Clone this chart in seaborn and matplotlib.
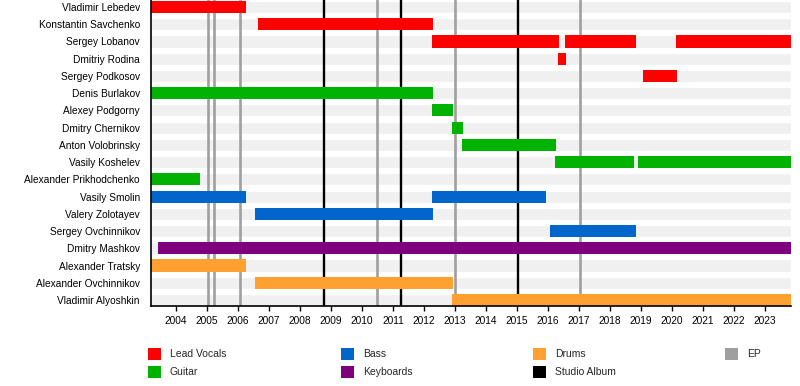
import matplotlib
matplotlib.use("Agg")
import matplotlib.pyplot as plt
import seaborn as sns
import pandas as pd
from matplotlib.patches import Rectangle

# band members, top to bottom
members = ['Vladimir Lebedev', 'Konstantin Savchenko', 'Sergey Lobanov', 'Dmitriy Rodina',
           'Sergey Podkosov', 'Denis Burlakov', 'Alexey Podgorny', 'Dmitry Chernikov',
           'Anton Volobrinsky', 'Vasily Koshelev', 'Alexander Prikhodchenko', 'Vasily Smolin',
           'Valery Zolotayev', 'Sergey Ovchinnikov', 'Dmitry Mashkov', 'Alexander Tratsky',
           'Alexander Ovchinnikov', 'Vladimir Alyoshkin']

# timeline range
t_start = 2003.19
t_end = 2023.85

# membership periods (member, role, from, till)
seg_member = ['Vladimir Lebedev', 'Konstantin Savchenko', 'Sergey Lobanov', 'Sergey Lobanov',
              'Sergey Lobanov', 'Dmitriy Rodina', 'Sergey Podkosov', 'Denis Burlakov',
              'Alexey Podgorny', 'Dmitry Chernikov', 'Anton Volobrinsky', 'Vasily Koshelev',
              'Vasily Koshelev', 'Alexander Prikhodchenko', 'Vasily Smolin', 'Vasily Smolin',
              'Valery Zolotayev', 'Sergey Ovchinnikov', 'Dmitry Mashkov', 'Alexander Tratsky',
              'Alexander Ovchinnikov', 'Vladimir Alyoshkin']
seg_role = ['Lead Vocals', 'Lead Vocals', 'Lead Vocals', 'Lead Vocals', 'Lead Vocals',
            'Lead Vocals', 'Lead Vocals', 'Guitar', 'Guitar', 'Guitar', 'Guitar', 'Guitar',
            'Guitar', 'Guitar', 'Bass', 'Bass', 'Bass', 'Bass', 'Keyboards', 'Drums',
            'Drums', 'Drums']
seg_from = [2003.19, 2006.66, 2012.27, 2016.56, 2020.14, 2016.33, 2019.07, 2003.19,
            2012.27, 2012.91, 2013.24, 2016.24, 2018.91, 2003.19, 2003.19, 2012.27,
            2006.56, 2016.07, 2003.41, 2003.19, 2006.56, 2012.91]
seg_till = [2006.26, 2012.29, 2016.36, 2018.85, 2023.85, 2016.59, 2020.17, 2012.30,
            2012.95, 2013.27, 2016.27, 2018.78, 2023.85, 2004.78, 2006.27, 2015.95,
            2012.29, 2018.85, 2023.85, 2006.27, 2012.95, 2023.85]

# releases
ep_dates = [2005.02, 2005.21, 2006.07, 2010.48, 2012.99, 2017.05]
album_dates = [2008.76, 2011.26, 2015.05]

years = list(range(2004, 2024))

roles = ['Lead Vocals', 'Guitar', 'Bass', 'Keyboards', 'Drums']
role_colors = {'Lead Vocals': '#ff0000', 'Guitar': '#00b300', 'Bass': '#0066cc',
               'Keyboards': '#7f007f', 'Drums': '#ffa030'}
ep_color = '#9f9f9f'
album_color = '#000000'
stripe_color = '#f0f0f0'

font = 'Liberation Sans'
sns.set_theme(style='white')
plt.rcParams['font.family'] = [font, 'DejaVu Sans']

seg = pd.DataFrame({'member': seg_member, 'role': seg_role, 'from': seg_from, 'till': seg_till})
seg['pos'] = seg['member'].map({m: i for i, m in enumerate(members)})

W, H = 800, 386
fig = plt.figure(figsize=(W / 100, H / 100), dpi=100)
ax = fig.add_axes([151 / W, 1 - 306 / H, 640 / W, 306 / H])

# light grey background stripe for every row
bg = pd.DataFrame({'member': members, 'span': [t_end] * len(members)})
sns.barplot(data=bg, x='span', y='member', orient='h', color=stripe_color,
            width=0.7, ax=ax, zorder=0, saturation=1)

# release lines
for d in ep_dates:
    ax.axvline(d, color=ep_color, lw=1.9, zorder=1)
for d in album_dates:
    ax.axvline(d, color=album_color, lw=1.7, zorder=1)

# member bars
for _, r in seg.iterrows():
    ax.barh(r['pos'], r['till'] - r['from'], left=r['from'], height=0.7,
            color=role_colors[r['role']], zorder=2, linewidth=0)

ax.set_xlim(t_start, t_end)
ax.set_ylim(17.35, -0.407)
ax.set_xticks(years)
ax.set_xticklabels([str(y) for y in years])
ax.set_xlabel('')
ax.set_ylabel('')
sns.despine(ax=ax, top=True, right=True)
for s in ['left', 'bottom']:
    ax.spines[s].set_color('black')
    ax.spines[s].set_linewidth(1.2)
ax.tick_params(axis='x', bottom=True, length=3.5, width=1, color='black',
               labelsize=7.3, pad=4, labelcolor='black')
ax.tick_params(axis='y', left=False, length=0, labelsize=7.3, pad=8, labelcolor='black')

# legend, four columns
legend_items = [('Lead Vocals', role_colors['Lead Vocals'], 0, 0),
                ('Guitar', role_colors['Guitar'], 0, 1),
                ('Bass', role_colors['Bass'], 1, 0),
                ('Keyboards', role_colors['Keyboards'], 1, 1),
                ('Drums', role_colors['Drums'], 2, 0),
                ('Studio Album', album_color, 2, 1),
                ('EP', ep_color, 3, 0)]
col_x = [148, 341, 533, 725]
row_y = [354, 372]
for label, c, col, row in legend_items:
    x0 = col_x[col]
    y0 = row_y[row]
    fig.add_artist(Rectangle(((x0) / W, 1 - (y0 + 6) / H), 13 / W, 12 / H,
                             transform=fig.transFigure, color=c, lw=0))
    fig.text((x0 + 22) / W, 1 - y0 / H, label, fontsize=7.5, va='center', ha='left')

fig.savefig('out.png', dpi=100)
